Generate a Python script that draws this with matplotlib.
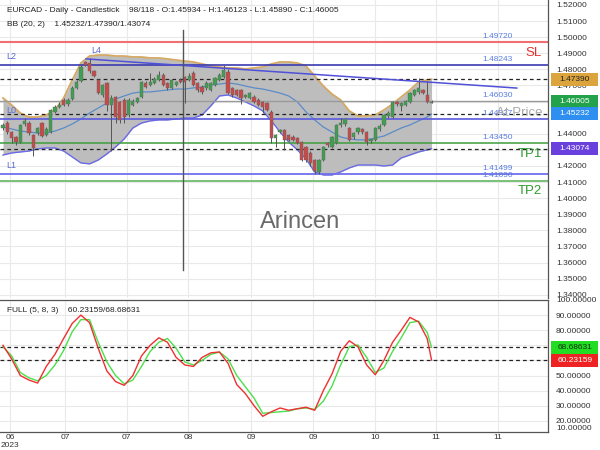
import matplotlib
matplotlib.use("Agg")
import matplotlib.pyplot as plt
import matplotlib.transforms as mtransforms
from matplotlib.patches import Rectangle
import numpy as np

plt.rcParams['font.family'] = ['Liberation Sans', 'DejaVu Sans']

# ---------------- data ----------------
opens = [1.4435, 1.4470, 1.4411, 1.4380, 1.4349, 1.4460, 1.4470, 1.4393, 1.4405, 1.4467,
         1.4395, 1.4411, 1.4536, 1.4567, 1.4610, 1.4585, 1.4618, 1.4685, 1.4730, 1.4846,
         1.4840, 1.4790, 1.4734, 1.4641, 1.4716, 1.4579, 1.4629, 1.4598, 1.4610, 1.4517,
         1.4579, 1.4598, 1.4629, 1.4716, 1.4703, 1.4716, 1.4734, 1.4765, 1.4716, 1.4684,
         1.4703, 1.4734, 1.4753, 1.4734, 1.4778, 1.4716, 1.4691, 1.4685, 1.4672, 1.4703,
         1.4734, 1.4753, 1.4784, 1.4685, 1.4672, 1.4672, 1.4629, 1.4622, 1.4629, 1.4610,
         1.4598, 1.4591, 1.4536, 1.4374, 1.4411, 1.4424, 1.4393, 1.4380, 1.4374, 1.4349,
         1.4318, 1.4281, 1.4237, 1.4160, 1.4237, 1.4343, 1.4318, 1.4343, 1.4455, 1.4460,
         1.4436, 1.4380, 1.4410, 1.4430, 1.4411, 1.4355, 1.4362, 1.4430, 1.4455, 1.4510,
         1.4504, 1.4598, 1.4570, 1.4579, 1.4598, 1.4641, 1.4660, 1.4672, 1.4641, 1.45934]
highs = [1.4465, 1.4480, 1.4418, 1.4388, 1.4462, 1.4500, 1.4480, 1.4400, 1.4445, 1.4475,
         1.4440, 1.4555, 1.4580, 1.4595, 1.4620, 1.4620, 1.4695, 1.4735, 1.4830, 1.4855,
         1.4871, 1.4795, 1.4740, 1.4710, 1.4722, 1.4640, 1.4635, 1.4605, 1.4620, 1.4620,
         1.4615, 1.4630, 1.4730, 1.4725, 1.4778, 1.4750, 1.4790, 1.4775, 1.4722, 1.4740,
         1.4730, 1.4745, 1.4760, 1.4778, 1.4790, 1.4722, 1.4700, 1.4725, 1.4722, 1.4755,
         1.4775, 1.4827, 1.4800, 1.4690, 1.4680, 1.4680, 1.4650, 1.4660, 1.4640, 1.4620,
         1.4605, 1.4600, 1.4545, 1.4400, 1.4430, 1.4430, 1.4400, 1.4390, 1.4380, 1.4355,
         1.4325, 1.4290, 1.4245, 1.4245, 1.4325, 1.4350, 1.4385, 1.4460, 1.4500, 1.4500,
         1.4445, 1.4410, 1.4440, 1.4435, 1.4415, 1.4370, 1.4440, 1.4460, 1.4525, 1.4540,
         1.4605, 1.4605, 1.4600, 1.4610, 1.4660, 1.4680, 1.4747, 1.4680, 1.4730, 1.46123]
lows = [1.4425, 1.4400, 1.4345, 1.4330, 1.4340, 1.4450, 1.4395, 1.4264, 1.4395, 1.4380,
        1.4385, 1.4405, 1.4530, 1.4560, 1.4570, 1.4575, 1.4610, 1.4680, 1.4720, 1.4820,
        1.4780, 1.4750, 1.4645, 1.4630, 1.4540, 1.4290, 1.4470, 1.4470, 1.4465, 1.4505,
        1.4570, 1.4590, 1.4620, 1.4685, 1.4695, 1.4710, 1.4728, 1.4695, 1.4675, 1.4678,
        1.4695, 1.4715, 1.4591, 1.4725, 1.4695, 1.4660, 1.4650, 1.4675, 1.4665, 1.4695,
        1.4725, 1.4745, 1.4645, 1.4630, 1.4635, 1.4585, 1.4620, 1.4615, 1.4590, 1.4570,
        1.4530, 1.4540, 1.4343, 1.4315, 1.4405, 1.4300, 1.4355, 1.4355, 1.4335, 1.4230,
        1.4225, 1.4200, 1.4150, 1.4148, 1.4230, 1.4320, 1.4310, 1.4335, 1.4445, 1.4450,
        1.4355, 1.4370, 1.4400, 1.4400, 1.4330, 1.4345, 1.4355, 1.4420, 1.4450, 1.4500,
        1.4500, 1.4575, 1.4540, 1.4570, 1.4590, 1.4635, 1.4650, 1.4645, 1.4590, 1.45890]
closes = [1.4455, 1.4410, 1.4374, 1.4350, 1.4455, 1.4480, 1.4405, 1.4312, 1.4436, 1.4388,
          1.4430, 1.4548, 1.4567, 1.4580, 1.4579, 1.4610, 1.4685, 1.4722, 1.4815, 1.4827,
          1.4790, 1.4760, 1.4653, 1.4703, 1.4579, 1.4622, 1.4504, 1.4486, 1.4504, 1.4610,
          1.4605, 1.4622, 1.4722, 1.4691, 1.4722, 1.4740, 1.4765, 1.4703, 1.4684, 1.4734,
          1.4722, 1.4722, 1.4722, 1.4759, 1.4703, 1.4672, 1.4660, 1.4716, 1.4716, 1.4747,
          1.4765, 1.4796, 1.4653, 1.4641, 1.4641, 1.4622, 1.4641, 1.4653, 1.4598, 1.4579,
          1.4567, 1.4548, 1.4374, 1.4393, 1.4424, 1.4362, 1.4362, 1.4362, 1.4343, 1.4237,
          1.4237, 1.4219, 1.4170, 1.4237, 1.4318, 1.4330, 1.4380, 1.4455, 1.4467, 1.4490,
          1.4362, 1.4405, 1.4435, 1.4410, 1.4349, 1.4365, 1.4436, 1.4450, 1.4517, 1.4530,
          1.4598, 1.4585, 1.4591, 1.4604, 1.4653, 1.4672, 1.4685, 1.4653, 1.4598, 1.46005]

band_idx = list(range(0, 100, 2)) + [99]
bb_upper = [1.4622, 1.4579, 1.4529, 1.4504, 1.4504, 1.4517, 1.4548, 1.4622, 1.4734, 1.4840,
            1.4883, 1.4889, 1.4889, 1.4883, 1.4883, 1.4877, 1.4877, 1.4871, 1.4871, 1.4865,
            1.4858, 1.4852, 1.4846, 1.4834, 1.4821, 1.4815, 1.4809, 1.4809, 1.4803, 1.4809,
            1.4815, 1.4834, 1.4846, 1.4846, 1.4840, 1.4821, 1.4759, 1.4697, 1.4647, 1.4610,
            1.4542, 1.4511, 1.4511, 1.4517, 1.4548, 1.4585, 1.4629, 1.4672, 1.4722, 1.4734,
            1.47390]
bb_mid = [1.4442, 1.4430, 1.4417, 1.4411, 1.4405, 1.4405, 1.4417, 1.4436, 1.4461, 1.4492,
          1.4529, 1.4560, 1.4591, 1.4616, 1.4635, 1.4653, 1.4660, 1.4660, 1.4666, 1.4672,
          1.4678, 1.4678, 1.4685, 1.4691, 1.4703, 1.4709, 1.4716, 1.4709, 1.4697, 1.4685,
          1.4678, 1.4666, 1.4653, 1.4635, 1.4598, 1.4536, 1.4486, 1.4442, 1.4411, 1.4380,
          1.4368, 1.4362, 1.4362, 1.4374, 1.4386, 1.4411, 1.4436, 1.4455, 1.4480, 1.4504,
          1.45232]
bb_lower = [1.4268, 1.4281, 1.4287, 1.4293, 1.4306, 1.4312, 1.4312, 1.4293, 1.4256, 1.4219,
            1.4213, 1.4237, 1.4275, 1.4318, 1.4368, 1.4436, 1.4467, 1.4480, 1.4486, 1.4486,
            1.4492, 1.4498, 1.4498, 1.4517, 1.4573, 1.4635, 1.4641, 1.4622, 1.4598, 1.4573,
            1.4542, 1.4480, 1.4411, 1.4349, 1.4300, 1.4244, 1.4163, 1.4144, 1.4144, 1.4163,
            1.4188, 1.4206, 1.4206, 1.4206, 1.4200, 1.4206, 1.4250, 1.4268, 1.4287, 1.4300,
            1.43074]

stoch_k = [70, 61, 50, 47, 45, 56, 64, 74.5, 84.5, 90, 85, 68, 53, 46, 43.5, 50, 63, 70, 75, 72,
           62, 57, 56, 62, 65, 65.6, 58, 44, 38, 30, 23, 26, 28.5, 27, 28, 29, 27, 40, 51, 66,
           73, 69, 57, 50.5, 60, 72, 80, 88.5, 85.5, 74.5, 60.23159]
stoch_d = [69, 63, 52, 48.5, 46.5, 50, 57, 66.5, 79, 87, 87, 72, 59, 50, 44.5, 47, 56, 66, 72, 74.5,
           68, 59, 57, 60, 64, 65.5, 61, 50, 42.5, 35, 25, 25.5, 26, 26.5, 28, 28.5, 27.5, 33, 43, 57,
           69, 70.2, 62, 52, 55, 66, 75, 85, 86, 78.5, 68.68631]

sl_level = 1.49720
l2_level = 1.48243
gray_level = 1.46030
l0_level = 1.44927
tp1_level = 1.43450
l1_level = 1.41499
tp2_level = 1.41090
at_price_level = 1.4530

trend_bars = [19.2, 118.7]
trend_prices = [1.4865, 1.4684]

cursor_bar = 41.6
cursor_prices = [1.5045, 1.3554]

date_ticks = [1.6, 14.3, 28.6, 42.7, 57.3, 71.6, 85.9, 100.0, 114.3]
date_labels = ['06\n2023', '07', '07', '08', '09', '09', '10', '11', '11']

price_ticks = [1.34, 1.35, 1.36, 1.37, 1.38, 1.39, 1.40, 1.41, 1.42, 1.43,
               1.44, 1.45, 1.46, 1.47, 1.48, 1.49, 1.50, 1.51, 1.52]
stoch_ticks = [20, 30, 40, 50, 60, 70, 80, 90, 100]
last_close = 1.46005

# ---------------- figure ----------------
W, H = 600, 450
fig = plt.figure(figsize=(6, 4.5), dpi=100)
fig.patch.set_facecolor('white')
ax = fig.add_axes([0, 152 / H, 548 / W, 298 / H])
ax2 = fig.add_axes([0, 18 / H, 548 / W, 132 / H], sharex=ax)

P_LO, P_HI = 1.3380, 1.5231
S_LO, S_HI = 12.6, 100
ax.set_xlim(-0.69, 125.9)
ax.set_ylim(P_LO, P_HI)
ax2.set_ylim(S_LO, S_HI)

for a in (ax, ax2):
    a.set_xticks(date_ticks)
    a.grid(True, color='#e9e9e9', lw=0.8)
    a.set_axisbelow(True)
    a.yaxis.tick_right()
    a.tick_params(axis='y', length=0, pad=5.8, labelsize=6, labelcolor='#333333')
    a.spines['left'].set_visible(False)
    for s in ('right', 'top', 'bottom'):
        a.spines[s].set_color('#555555')
        a.spines[s].set_linewidth(0.9)
ax.spines['top'].set_visible(False)
ax.spines['bottom'].set_visible(False)
ax.tick_params(axis='x', length=0, labelbottom=False)

ax.set_yticks(price_ticks)
ax.set_yticklabels([f'{t:.5f}' for t in price_ticks])
ax2.set_yticks(stoch_ticks)
ax2.set_yticklabels([f'{t:.5f}' for t in stoch_ticks])
ax2.set_xticklabels(date_labels)
ax2.tick_params(axis='x', length=0, pad=1.5, labelsize=6, labelcolor='#333333')
for lbl in ax2.get_xticklabels():
    lbl.set_linespacing(1.1)

# Bollinger bands
ax.fill_between(band_idx, bb_lower, bb_upper, color='#bdbdbd', lw=0, zorder=1)
ax.plot(band_idx, bb_upper, color='#d4a964', lw=1.3, zorder=2)
ax.plot(band_idx, bb_lower, color='#6a6ae6', lw=1.0, zorder=2)
ax.plot(band_idx, bb_mid, color='#5b8cc8', lw=0.9, zorder=2)

# level lines
ax.axhline(sl_level, color='#f07070', lw=1.5, zorder=2)
ax.axhline(l2_level, color='#3b3bb0', lw=1.2, zorder=2)
ax.axhline(gray_level, color='#9a9a9a', lw=1.0, zorder=2)
ax.axhline(l0_level, color='#5a5ae0', lw=1.2, zorder=2)
ax.axhline(tp1_level, color='#3d9e3d', lw=1.1, zorder=2)
ax.axhline(l1_level, color='#6f6fee', lw=1.3, zorder=2)
ax.axhline(tp2_level, color='#77c277', lw=1.4, zorder=2)
for v in (bb_upper[-1], bb_mid[-1], bb_lower[-1]):
    ax.axhline(v, color='#222222', lw=0.9, ls=(0, (3, 2.5)), zorder=2.5)

# candles
x = np.arange(len(closes))
o = np.array(opens); c = np.array(closes)
ax.vlines(x, lows, highs, color='#555555', lw=0.7, zorder=3)
cols = ['#3f9e4f' if cc >= oo else '#c74a4a' for oo, cc in zip(o, c)]
body = np.maximum(np.abs(c - o), 0.00025)
ax.bar(x, body, bottom=np.minimum(o, c), width=0.75, color=cols,
       edgecolor='#666666', linewidth=0.3, zorder=4)

# trend line and cursor
ax.plot(trend_bars, trend_prices, color='#5050d8', lw=1.1, zorder=5)
ax.plot([cursor_bar, cursor_bar], cursor_prices, color='#555555', lw=1.0, zorder=6)

# level annotations
tr_ax = mtransforms.blended_transform_factory(ax.transAxes, ax.transData)
blue_txt = '#5a7ee0'
for lv, s in [(sl_level, '1.49720'), (l2_level, '1.48243'), (gray_level, '1.46030'),
              (l0_level, '1.44927'), (tp1_level, '1.43450'), (l1_level, '1.41499'),
              (tp2_level, '1.41090')]:
    ax.annotate(s, (513 / 548, lv), xycoords=tr_ax, xytext=(0, 1.5), textcoords='offset points',
                ha='right', va='bottom', fontsize=6, color=blue_txt, zorder=7)
lvl_col = '#5a6ad0'
for lv, s in [(l2_level, 'L2'), (l0_level, 'L0'), (l1_level, 'L1')]:
    ax.annotate(s, (6 / 548, lv), xycoords=tr_ax, xytext=(0, 3), textcoords='offset points',
                ha='left', va='bottom', fontsize=6.5, color=lvl_col, zorder=7)
ax.annotate('L4', (trend_bars[0], trend_prices[0]), xytext=(4, 2.5), textcoords='offset points',
            ha='left', va='bottom', fontsize=6.5, color=lvl_col, zorder=7)
ax.annotate('SL', (542 / 548, sl_level), xycoords=tr_ax, xytext=(0, -3.5), textcoords='offset points',
            ha='right', va='top', fontsize=9.5, color='#e03030', zorder=7)
ax.annotate('TP1', (542 / 548, tp1_level), xycoords=tr_ax, xytext=(0, -3.5), textcoords='offset points',
            ha='right', va='top', fontsize=9.5, color='#2e9a2e', zorder=7)
ax.annotate('TP2', (542 / 548, tp2_level), xycoords=tr_ax, xytext=(0, -3.5), textcoords='offset points',
            ha='right', va='top', fontsize=9.5, color='#2e9a2e', zorder=7)
ax.text(542 / 548, at_price_level, 'At Price', transform=tr_ax, ha='right', va='center',
        fontsize=9.5, color='#a8a8a8', zorder=7)

# value boxes on the right axis
def box(axis, lo, hi, pix_h, value, text, fc, tc):
    tr = mtransforms.blended_transform_factory(fig.transFigure, axis.transData)
    h = 13 / pix_h * (hi - lo)
    axis.add_patch(Rectangle((551 / W, value - h / 2), 47 / W, h, transform=tr,
                             fc=fc, ec='none', clip_on=False, zorder=20))
    axis.text(575 / W, value, text, transform=tr, ha='center', va='center',
              fontsize=6, color=tc, zorder=21, clip_on=False)

box(ax, P_LO, P_HI, 298, bb_upper[-1], f'{bb_upper[-1]:.5f}', '#dba43c', '#222222')
box(ax, P_LO, P_HI, 298, last_close, f'{last_close:.5f}', '#22a24a', 'white')
box(ax, P_LO, P_HI, 298, bb_mid[-1], f'{bb_mid[-1]:.5f}', '#2f8ff0', 'white')
box(ax, P_LO, P_HI, 298, bb_lower[-1], f'{bb_lower[-1]:.5f}', '#6a40dd', 'white')

# stochastic
ax2.plot(band_idx, stoch_d, color='#4be04b', lw=1.0, zorder=3)
ax2.plot(band_idx, stoch_k, color='#ee3030', lw=1.0, zorder=4)
for v in (stoch_d[-1], stoch_k[-1]):
    ax2.axhline(v, color='#222222', lw=0.9, ls=(0, (3, 2.5)), zorder=2)
box(ax2, S_LO, S_HI, 132, stoch_d[-1], f'{stoch_d[-1]:.5f}', '#22dd22', '#113311')
box(ax2, S_LO, S_HI, 132, stoch_k[-1], f'{stoch_k[-1]:.5f}', '#ee2222', 'white')
fig.text(556 / W, 1 - 428 / H, '10.00000', ha='left', va='center', fontsize=6, color='#333333')

# header texts
fig.text(7 / W, 1 - 10 / H,
         'EURCAD - Daily - Candlestick    98/118 - O:1.45934 - H:1.46123 - L:1.45890 - C:1.46005',
         ha='left', va='center', fontsize=6, color='#222222')
fig.text(7 / W, 1 - 25 / H, 'BB (20, 2)    1.45232/1.47390/1.43074',
         ha='left', va='center', fontsize=6, color='#222222')
fig.text(7 / W, 1 - 311 / H, 'FULL (5, 8, 3)    60.23159/68.68631',
         ha='left', va='center', fontsize=6, color='#222222')
fig.text(300 / W, 1 - 222 / H, 'Arincen', ha='center', va='center', fontsize=17, color='#6a6a6a')

fig.savefig('out.png', dpi=100)
